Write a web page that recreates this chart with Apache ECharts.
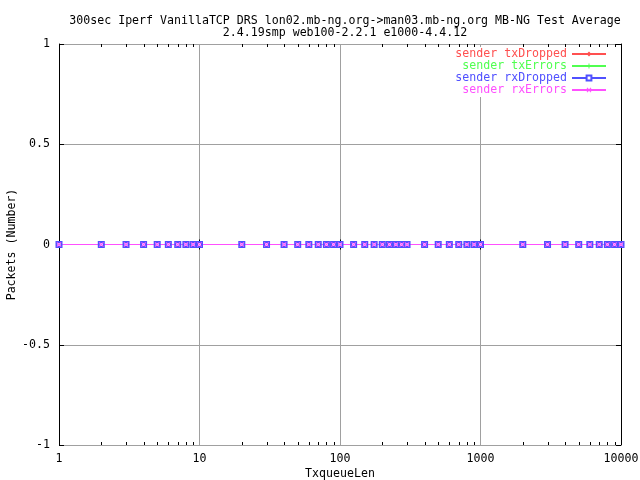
<!DOCTYPE html>
<html>
<head>
<meta charset="utf-8">
<script src="https://cdn.jsdelivr.net/npm/echarts@6/dist/echarts.min.js"></script>
<style>html,body{margin:0;padding:0;background:#fff;}#c{width:640px;height:480px;}</style>
</head>
<body>
<div id="c"></div>
<script>
var titleLines = ['300sec Iperf VanillaTCP DRS lon02.mb-ng.org->man03.mb-ng.org MB-NG Test Average', '2.4.19smp web100-2.2.1 e1000-4.4.12'];
var xValues = [1,2,3,4,5,6,7,8,9,10,20,30,40,50,60,70,80,90,100,125,150,175,200,225,250,275,300,400,500,600,700,800,900,1000,2000,3000,4000,5000,6000,7000,8000,9000,10000];
var txDropped = [0,0,0,0,0,0,0,0,0,0,0,0,0,0,0,0,0,0,0,0,0,0,0,0,0,0,0,0,0,0,0,0,0,0,0,0,0,0,0,0,0,0,0];
var txErrors  = [0,0,0,0,0,0,0,0,0,0,0,0,0,0,0,0,0,0,0,0,0,0,0,0,0,0,0,0,0,0,0,0,0,0,0,0,0,0,0,0,0,0,0];
var rxDropped = [0,0,0,0,0,0,0,0,0,0,0,0,0,0,0,0,0,0,0,0,0,0,0,0,0,0,0,0,0,0,0,0,0,0,0,0,0,0,0,0,0,0,0];
var rxErrors  = [0,0,0,0,0,0,0,0,0,0,0,0,0,0,0,0,0,0,0,0,0,0,0,0,0,0,0,0,0,0,0,0,0,0,0,0,0,0,0,0,0,0,0];
var seriesNames = ['sender txDropped', 'sender txErrors', 'sender rxDropped', 'sender rxErrors'];
var seriesColors = ['#ff5050', '#50ff50', '#5050ff', '#ff50ff'];
var minorTicks = [2,3,4,5,6,7,8,9,20,30,40,50,60,70,80,90,200,300,400,500,600,700,800,900,2000,3000,4000,5000,6000,7000,8000,9000];

var FONT = 'DejaVu Sans Mono';
var FS = 11.6;
var PLUS = 'path://M2,0H3V2H5V3H3V5H2V3H0V2H2Z';
var CROSS = 'path://M0,0.7L0.7,0L2.5,1.8L4.3,0L5,0.7L3.2,2.5L5,4.3L4.3,5L2.5,3.2L0.7,5L0,4.3L1.8,2.5Z';
var symbols = ['diamond', PLUS, 'emptyRect', CROSS];
var symSizes = [4, 5, 5, 5];
var allData = [txDropped, txErrors, rxDropped, rxErrors];

function pairs(ys) { return xValues.map(function (x, i) { return [x, ys[i]]; }); }

var series = seriesNames.map(function (n, i) {
  return {
    name: n, type: 'line', data: pairs(allData[i]),
    xAxisIndex: 0, yAxisIndex: 0,
    symbol: symbols[i], symbolSize: symSizes[i], showSymbol: true,
    lineStyle: { color: seriesColors[i], width: 1 },
    itemStyle: { color: seriesColors[i], borderColor: seriesColors[i], borderWidth: i === 2 ? 1 : 0 },
    animation: false, silent: true
  };
});

series.push({
  type: 'custom', xAxisIndex: 0, yAxisIndex: 0, silent: true, animation: false,
  data: minorTicks.map(function (v) { return [v]; }),
  renderItem: function (params, api) {
    var v = api.value(0);
    var b = api.coord([v, -1]);
    var t = api.coord([v, 1]);
    var x = Math.round(b[0]) + 0.5;
    return {
      type: 'group',
      children: [
        { type: 'line', shape: { x1: x, y1: b[1], x2: x, y2: b[1] - 3 }, style: { stroke: '#000', lineWidth: 1 } },
        { type: 'line', shape: { x1: x, y1: t[1], x2: x, y2: t[1] + 3 }, style: { stroke: '#000', lineWidth: 1 } }
      ]
    };
  }
});

var chart = echarts.init(document.getElementById('c'), null, { renderer: 'canvas' });
chart.setOption({
  backgroundColor: '#fff',
  animation: false,
  title: {
    text: titleLines.join('\n'),
    left: 340, top: 10, textAlign: 'center',
    textStyle: { fontFamily: FONT, fontSize: FS, fontWeight: 'normal', color: '#000', lineHeight: 12 }
  },
  legend: {
    orient: 'vertical', align: 'right', right: 33, top: 47, padding: [1, 0, 1, 4],
    backgroundColor: '#fff', itemWidth: 34, itemHeight: 6, itemGap: 0,
    data: seriesNames.map(function (n, i) {
      return { name: n, textStyle: { color: seriesColors[i] } };
    }),
    textStyle: { fontFamily: FONT, fontSize: FS, lineHeight: 11 }
  },
  grid: { left: 59, right: 19, top: 44, bottom: 35, containLabel: false, outerBoundsMode: 'none' },
  xAxis: [{
    type: 'log', logBase: 10, min: 1, max: 10000, position: 'bottom',
    name: 'TxqueueLen', nameLocation: 'middle', nameGap: 23, nameMoveOverlap: false,
    nameTextStyle: { fontFamily: FONT, fontSize: FS, color: '#000' },
    axisLine: { lineStyle: { color: '#000', width: 1 } },
    axisTick: { inside: true, length: 5, lineStyle: { color: '#000' } },
    axisLabel: { fontFamily: FONT, fontSize: FS, color: '#000', margin: 8, formatter: function (v) { return String(Math.round(v)); } },
    splitLine: { show: true, lineStyle: { color: '#a0a0a0', width: 1 } }
  }, {
    type: 'log', logBase: 10, min: 1, max: 10000, position: 'top',
    axisLine: { lineStyle: { color: '#000', width: 1 } },
    axisTick: { inside: true, length: 5, lineStyle: { color: '#000' } },
    axisLabel: { show: false }, splitLine: { show: false }
  }],
  yAxis: [{
    type: 'value', min: -1, max: 1, interval: 0.5, position: 'left',
    name: 'Packets (Number)', nameLocation: 'middle', nameGap: 41, nameRotate: 90, nameMoveOverlap: false,
    nameTextStyle: { fontFamily: FONT, fontSize: FS, color: '#000' },
    axisLine: { show: true, lineStyle: { color: '#000', width: 1 } },
    axisTick: { show: true, inside: true, length: 5, lineStyle: { color: '#000' } },
    axisLabel: { fontFamily: FONT, fontSize: FS, color: '#000', margin: 9 },
    splitLine: { show: true, lineStyle: { color: '#a0a0a0', width: 1 } }
  }, {
    type: 'value', min: -1, max: 1, interval: 0.5, position: 'right',
    axisLine: { show: true, lineStyle: { color: '#000', width: 1 } },
    axisTick: { show: true, inside: true, length: 5, lineStyle: { color: '#000' } },
    axisLabel: { show: false }, splitLine: { show: false }
  }],
  series: series
});
</script>
</body>
</html>
